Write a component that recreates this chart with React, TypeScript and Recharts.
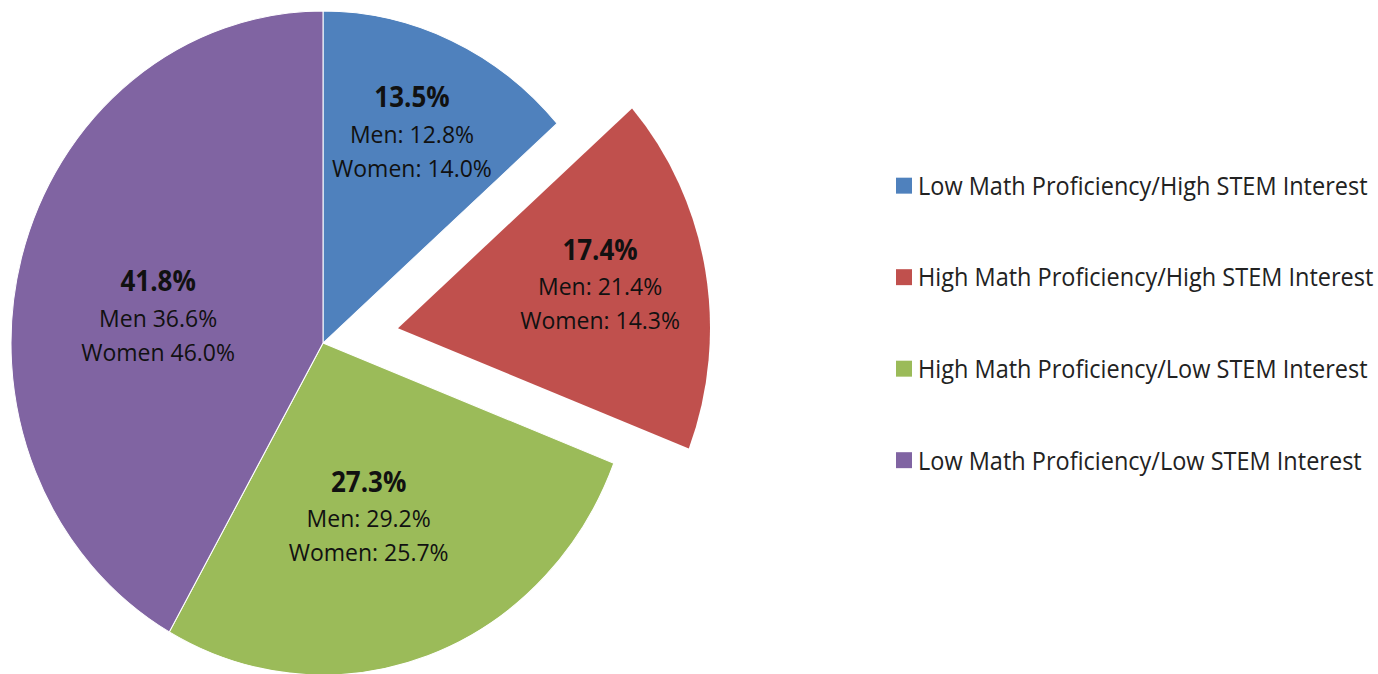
import React from 'react';
import { PieChart, Pie, Cell, Legend } from 'recharts';

const CATEGORIES = [
  'Low Math Proficiency/High STEM Interest',
  'High Math Proficiency/High STEM Interest',
  'High Math Proficiency/Low STEM Interest',
  'Low Math Proficiency/Low STEM Interest',
];
const SHARES = [13.5, 17.4, 27.3, 41.8];
const MEN_LABELS = ['Men: 12.8%', 'Men: 21.4%', 'Men: 29.2%', 'Men 36.6%'];
const WOMEN_LABELS = ['Women: 14.0%', 'Women: 14.3%', 'Women: 25.7%', 'Women 46.0%'];
const EXPLODED = 1;

const COLORS = ['#4F81BD', '#C0504D', '#9BBB59', '#8064A2'];
// label placement: fraction of radius, and a small turn (deg) off the slice's mid angle
const LABEL_POS = [
  [0.693, 0],
  [0.66, 1],
  [0.547, -4.1],
  [0.534, 6.5],
];

const FONT = '"Open Sans", Arial, sans-serif';
const SCALE_Y = 1.064;
const R = 312;
const CX = 323;
const CY = 322.4;

const data = CATEGORIES.map((name, i) => ({
  name,
  value: SHARES[i],
  men: MEN_LABELS[i],
  women: WOMEN_LABELS[i],
}));

function makeLabel(onlyExploded: boolean) {
  return (props: any) => {
    const { cx, cy, midAngle, outerRadius, index } = props;
    if ((index === EXPLODED) !== onlyExploded) return null;
    const RADIAN = Math.PI / 180;
    const [frac, turn] = LABEL_POS[index];
    const r = outerRadius * frac;
    const a = midAngle + turn;
    const x = cx + r * Math.cos(-a * RADIAN);
    const y = cy + r * Math.sin(-a * RADIAN);
    const d = data[index];
    return (
      <text x={x} y={y} textAnchor="middle" fill="#111" fontFamily={FONT}>
        <tspan x={x} y={y - 35} dominantBaseline="central" fontSize={26} fontWeight={700}>
          {`${d.value.toFixed(1)}%`}
        </tspan>
        <tspan x={x} y={y} dominantBaseline="central" fontSize={23}>
          {d.men}
        </tspan>
        <tspan x={x} y={y + 32} dominantBaseline="central" fontSize={23}>
          {d.women}
        </tspan>
      </text>
    );
  };
}

function renderLegend() {
  return (
    <div style={{ fontFamily: FONT, fontSize: 23.5, color: '#222' }}>
      {CATEGORIES.map((c, i) => (
        <div key={c} style={{ display: 'flex', alignItems: 'center', height: 86.2 }}>
          <span
            style={{ width: 16, height: 15, background: COLORS[i], marginRight: 6, display: 'inline-block', flexShrink: 0 }}
          />
          <span style={{ whiteSpace: 'nowrap' }}>{c}</span>
        </div>
      ))}
    </div>
  );
}

export default function App() {
  return (
    <div style={{ position: 'absolute', left: 0, top: 0, width: 1378, height: 674, overflow: 'hidden', background: '#fff' }}>
      <div style={{ transform: `scaleY(${SCALE_Y})`, transformOrigin: '0 0' }}>
        <PieChart width={1378} height={634} margin={{ top: 0, right: 0, bottom: 0, left: 0 }}>
          <Pie
            data={data}
            dataKey="value"
            cx={CX}
            cy={CY}
            outerRadius={R}
            startAngle={90}
            endAngle={-270}
            stroke="#fff"
            strokeWidth={1}
            labelLine={false}
            label={makeLabel(false)}
            isAnimationActive={false}
          >
            {data.map((d, i) => (
              <Cell key={d.name} fill={i === EXPLODED ? 'transparent' : COLORS[i]} stroke={i === EXPLODED ? 'none' : '#fff'} />
            ))}
          </Pie>
          <Pie
            data={data}
            dataKey="value"
            cx={CX + 75}
            cy={CY - 14}
            outerRadius={R}
            startAngle={90}
            endAngle={-270}
            labelLine={false}
            label={makeLabel(true)}
            isAnimationActive={false}
          >
            {data.map((d, i) => (
              <Cell key={d.name} fill={i === EXPLODED ? COLORS[i] : 'transparent'} stroke="none" />
            ))}
          </Pie>
          <Legend
            layout="vertical"
            content={renderLegend}
            wrapperStyle={{ position: 'absolute', left: 896, top: 131, width: 482 }}
          />
        </PieChart>
      </div>
    </div>
  );
}
